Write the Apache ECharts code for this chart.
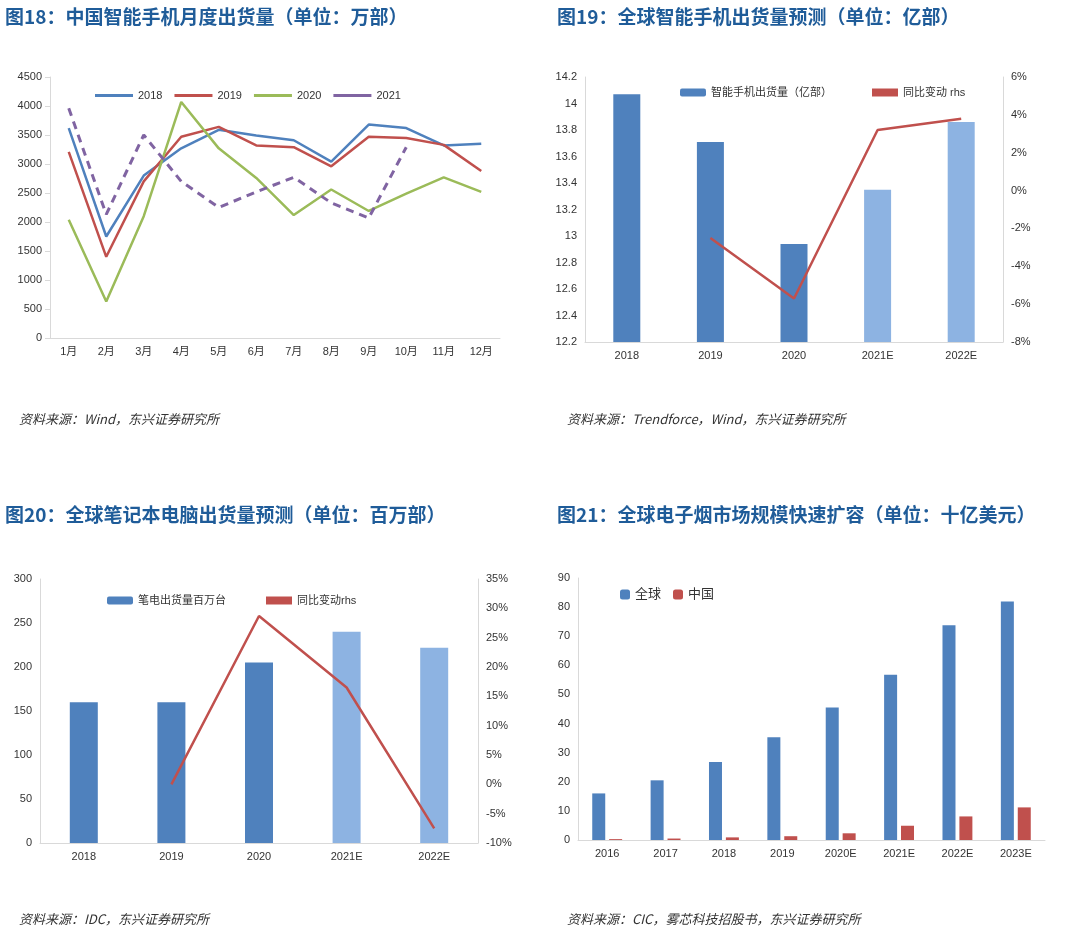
<!DOCTYPE html>
<html><head><meta charset="utf-8">
<script src="https://cdn.jsdelivr.net/npm/echarts@6/dist/echarts.min.js"></script>
<style>body{margin:0;background:#fff}#c{width:1080px;height:940px}</style>
</head><body><div id="c"></div>
<script>
var months = ['1月','2月','3月','4月','5月','6月','7月','8月','9月','10月','11月','12月'];
var s2018 = [3620,1750,2800,3270,3590,3490,3410,3040,3680,3620,3320,3350];
var s2019 = [3210,1400,2700,3470,3640,3320,3290,2960,3470,3450,3330,2880];
var s2020 = [2040,630,2100,4070,3270,2760,2120,2560,2190,2490,2770,2520];
var s2021 = [3960,2130,3500,2700,2250,2520,2770,2330,2070,3290];

var yearsE = ['2018','2019','2020','2021E','2022E'];
var phoneShip = [14.07,13.71,12.94,13.35,13.86];
var phoneYoy = [null,-2.5,-5.7,3.2,3.8];
var nbShip = [160,160,205,240,222];
var nbYoy = [null,0,28.7,16.5,-7.5];

var ecigYears = ['2016','2017','2018','2019','2020E','2021E','2022E','2023E'];
var ecigGlobal = [16,20.5,26.8,35.3,45.5,56.8,73.8,81.9];
var ecigChina = [0.3,0.5,0.9,1.3,2.3,4.9,8.1,11.2];

var dark = '#4F81BD', light = '#8DB3E2', red = '#C0504D';
var axLab = {color:'#333', fontSize:11};
var axLine = {show:true, onZero:false, lineStyle:{color:'#D9D9D9'}};
var lineIcon = 'rect';
function barColor(p){ return p.dataIndex >= 3 ? light : dark; }
function pct(v){ return v + '%'; }

var chart = echarts.init(document.getElementById('c'));
chart.setOption({
  animation:false,
  textStyle:{fontFamily:'Liberation Sans, Noto Sans CJK SC'},
  title:[
    {text:'图18：中国智能手机月度出货量（单位：万部）', left:0, top:2},
    {text:'图19：全球智能手机出货量预测（单位：亿部）', left:552, top:2},
    {text:'图20：全球笔记本电脑出货量预测（单位：百万部）', left:0, top:500},
    {text:'图21：全球电子烟市场规模快速扩容（单位：十亿美元）', left:552, top:500},
    {text:'资料来源：Wind，东兴证券研究所', left:14, top:408},
    {text:'资料来源：Trendforce，Wind，东兴证券研究所', left:562, top:408},
    {text:'资料来源：IDC，东兴证券研究所', left:14, top:908},
    {text:'资料来源：CIC，雾芯科技招股书，东兴证券研究所', left:562, top:908}
  ].map(function(t,i){
    t.textStyle = i < 4 ? {fontSize:19, fontWeight:'bold', color:'#1F5C99', fontFamily:'Noto Sans CJK SC'}
                        : {fontSize:13, fontStyle:'italic', color:'#333', fontWeight:'normal', fontFamily:'Noto Sans CJK SC'};
    return t;
  }),
  legend:[
    {left:90, top:85, itemWidth:38, itemHeight:3, itemGap:12, textStyle:axLab, icon:lineIcon,
     data:['2018','2019','2020','2021']},
    {left:675, top:82, itemWidth:26, itemHeight:8, itemGap:40, textStyle:axLab,
     data:['智能手机出货量（亿部）',{name:'同比变动 rhs', icon:'rect', itemStyle:{color:red}}], itemStyle:{}},
    {left:102, top:590, itemWidth:26, itemHeight:8, itemGap:40, textStyle:axLab,
     data:['笔电出货量百万台',{name:'同比变动rhs', icon:'rect'}]},
    {left:615, top:583, itemWidth:10, itemHeight:10, itemGap:12, textStyle:{color:'#333',fontSize:13},
     data:['全球','中国']}
  ],
  grid:[
    {left:50, right:580, top:77, bottom:602},
    {left:585, right:77, top:77, bottom:598},
    {left:40, right:602, top:579, bottom:97},
    {left:578, right:35, top:578, bottom:100}
  ],
  xAxis:[
    {gridIndex:0, type:'category', data:months, boundaryGap:true, axisLine:axLine, axisTick:{show:false}, axisLabel:axLab},
    {gridIndex:1, type:'category', data:yearsE, axisLine:axLine, axisTick:{show:false}, axisLabel:axLab},
    {gridIndex:2, type:'category', data:yearsE, axisLine:axLine, axisTick:{show:false}, axisLabel:axLab},
    {gridIndex:3, type:'category', data:ecigYears, axisLine:axLine, axisTick:{show:false}, axisLabel:axLab}
  ],
  yAxis:[
    {gridIndex:0, min:0, max:4500, interval:500, axisLine:axLine, axisTick:{show:true, lineStyle:{color:'#D9D9D9'}}, splitLine:{show:false}, axisLabel:{color:'#333',fontSize:11,formatter:function(v){return String(v);}}},
    {gridIndex:1, min:12.2, max:14.2, interval:0.2, axisLine:axLine, splitLine:{show:false}, axisLabel:{color:'#333',fontSize:11,formatter:function(v){return String(+v.toFixed(1));}}},
    {gridIndex:1, position:'right', min:-8, max:6, interval:2, axisLine:axLine, splitLine:{show:false}, axisLabel:{color:'#333',fontSize:11,formatter:pct}},
    {gridIndex:2, min:0, max:300, interval:50, axisLine:axLine, splitLine:{show:false}, axisLabel:axLab},
    {gridIndex:2, position:'right', min:-10, max:35, interval:5, axisLine:axLine, splitLine:{show:false}, axisLabel:{color:'#333',fontSize:11,formatter:pct}},
    {gridIndex:3, min:0, max:90, interval:10, axisLine:axLine, splitLine:{show:false}, axisLabel:axLab}
  ],
  series:[
    {name:'2018', type:'line', xAxisIndex:0, yAxisIndex:0, data:s2018, symbol:'none', lineStyle:{color:dark, width:2.5}, itemStyle:{color:dark}},
    {name:'2019', type:'line', xAxisIndex:0, yAxisIndex:0, data:s2019, symbol:'none', lineStyle:{color:red, width:2.5}, itemStyle:{color:red}},
    {name:'2020', type:'line', xAxisIndex:0, yAxisIndex:0, data:s2020, symbol:'none', lineStyle:{color:'#9BBB59', width:2.5}, itemStyle:{color:'#9BBB59'}},
    {name:'2021', type:'line', xAxisIndex:0, yAxisIndex:0, data:s2021, symbol:'none', lineStyle:{color:'#8064A2', width:3, type:[8,6]}, itemStyle:{color:'#8064A2'}},
    {name:'智能手机出货量（亿部）', type:'bar', xAxisIndex:1, yAxisIndex:1, data:phoneShip, barWidth:27, itemStyle:{color:barColor}, color:dark},
    {name:'同比变动 rhs', type:'line', xAxisIndex:1, yAxisIndex:2, data:phoneYoy, symbol:'none', lineStyle:{color:red, width:2.5}, itemStyle:{color:red}},
    {name:'笔电出货量百万台', type:'bar', xAxisIndex:2, yAxisIndex:3, data:nbShip, barWidth:28, itemStyle:{color:barColor}, color:dark},
    {name:'同比变动rhs', type:'line', xAxisIndex:2, yAxisIndex:4, data:nbYoy, symbol:'none', lineStyle:{color:red, width:2.5}, itemStyle:{color:red}},
    {name:'全球', type:'bar', xAxisIndex:3, yAxisIndex:5, data:ecigGlobal, barWidth:13, barGap:'30%', itemStyle:{color:dark}},
    {name:'中国', type:'bar', xAxisIndex:3, yAxisIndex:5, data:ecigChina, barWidth:13, itemStyle:{color:red}}
  ]
});
</script></body></html>
